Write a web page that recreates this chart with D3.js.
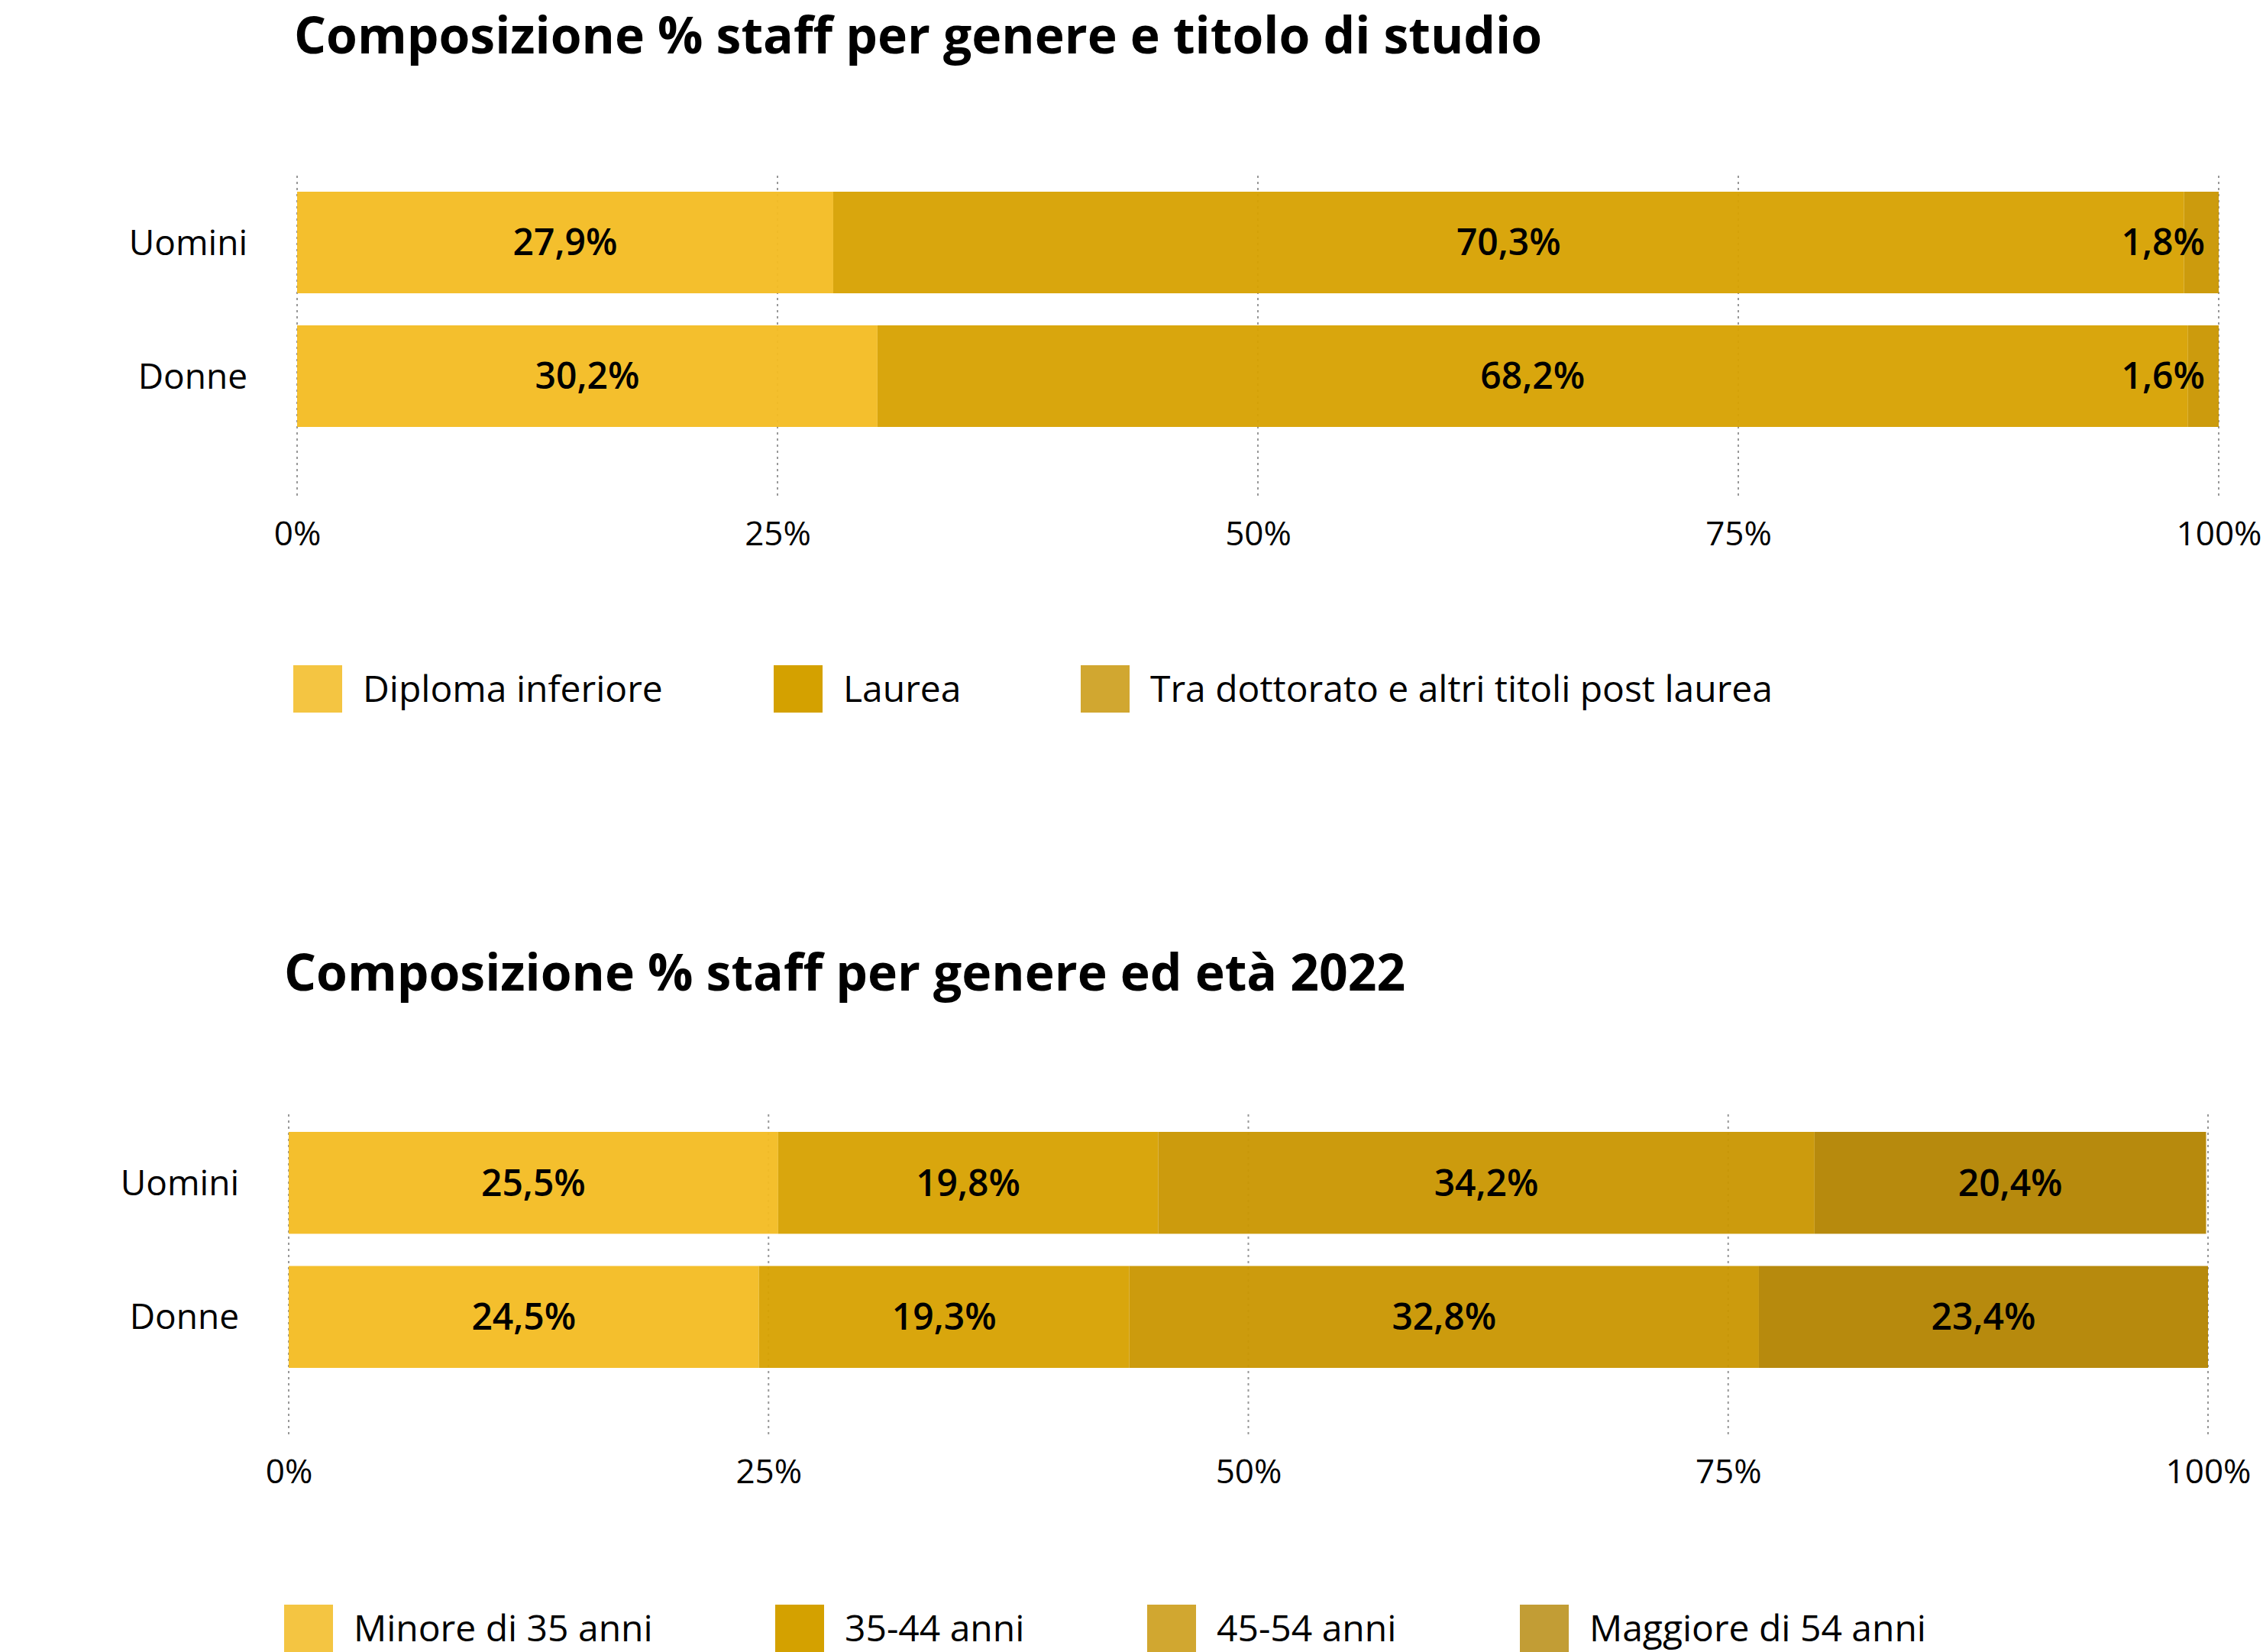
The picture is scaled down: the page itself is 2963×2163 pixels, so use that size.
<!DOCTYPE html>
<html><head><meta charset="utf-8">
<script src="https://cdn.jsdelivr.net/npm/d3@7"></script>
<style>body{margin:0;background:#fff}text{font-family:"Open Sans",sans-serif}</style>
</head><body>
<svg id="c" width="2963" height="2163"></svg>
<script>
const genders = ["Uomini", "Donne"]
const eduKeys = ["Diploma inferiore", "Laurea", "Tra dottorato e altri titoli post laurea"]
const eduUomini = [27.9, 70.3, 1.8]
const eduDonne = [30.2, 68.2, 1.6]
const ageKeys = ["Minore di 35 anni", "35-44 anni", "45-54 anni", "Maggiore di 54 anni"]
const ageUomini = [25.5, 19.8, 34.2, 20.4]
const ageDonne = [24.5, 19.3, 32.8, 23.4]
const ticks = [0, 25, 50, 75, 100]

const barColors = ["#F3BC22", "#D7A100", "#C99600", "#B38400"]
const legColors = ["#F4C542", "#D4A100", "#D1A730", "#C29D35"]

const svg = d3.select("#c")

function panel(o) {
  const g = svg.append("g")
  g.append("text").attr("x", o.titleX).attr("y", o.titleY)
    .attr("font-size", 66).attr("font-weight", 700).text(o.title)

  const x = d3.scaleLinear().domain([0, 100]).range([o.x0, o.x1])
  const y = d3.scaleBand().domain(genders).range([o.y0, o.y1]).paddingInner(0.24)

  // grid
  g.selectAll(".grid").data(ticks).join("line")
    .attr("x1", d => x(d)).attr("x2", d => x(d))
    .attr("y1", o.gTop).attr("y2", o.gBot)
    .attr("stroke", "#999").attr("stroke-width", 2).attr("stroke-dasharray", "3,5")

  const rows = [o.uomini, o.donne]
  rows.forEach((vals, ri) => {
    let acc = 0
    vals.forEach((v, i) => {
      const a = acc; acc += v
      g.append("rect").attr("x", x(a)).attr("width", x(acc) - x(a))
        .attr("y", y(genders[ri])).attr("height", y.bandwidth())
        .attr("fill", barColors[i]).attr("opacity", 0.95)
      // small segments: put label inside the bar end so it stays on the page
      const small = v < 5
      g.append("text").attr("x", small ? x(100) - 18 : x(a + v / 2))
        .attr("y", y(genders[ri]) + y.bandwidth() / 2)
        .attr("text-anchor", small ? "end" : "middle").attr("dy", "0.35em").attr("font-size", 48)
        .attr("font-weight", 600)
        .text(v.toFixed(1).replace(".", ",") + "%")
    })
  })

  // category labels
  g.selectAll(".cat").data(genders).join("text")
    .attr("x", o.x0 - 65).attr("y", d => y(d) + y.bandwidth() / 2).attr("dy", "0.35em")
    .attr("text-anchor", "end").attr("font-size", 46).text(d => d)

  // x axis
  const ax = g.append("g").attr("transform", `translate(0,${o.tickY})`)
    .call(d3.axisBottom(x).tickValues(ticks).tickFormat(d => d + "%").tickSize(0))
  ax.select(".domain").remove()
  ax.selectAll("text").attr("font-size", 44).attr("font-family", "Open Sans").attr("fill", "#000")

  // legend
  o.keys.forEach((k, i) => {
    const lx = o.legX[i]
    g.append("rect").attr("x", lx).attr("y", o.legY).attr("width", 64).attr("height", 62)
      .attr("fill", legColors[i])
    g.append("text").attr("x", lx + 91).attr("y", o.legY + 31).attr("dy", "0.35em")
      .attr("font-size", 48).text(k)
  })
}

panel({
  title: "Composizione % staff per genere e titolo di studio", titleX: 385, titleY: 70,
  x0: 389, x1: 2905, y0: 251, y1: 559, gTop: 230, gBot: 652, tickY: 680,
  uomini: eduUomini, donne: eduDonne, keys: eduKeys,
  legX: [384, 1013, 1415], legY: 871
})
panel({
  title: "Composizione % staff per genere ed età 2022", titleX: 372, titleY: 1297,
  x0: 378, x1: 2891, y0: 1482, y1: 1791, gTop: 1459, gBot: 1880, tickY: 1908,
  uomini: ageUomini, donne: ageDonne, keys: ageKeys,
  legX: [372, 1015, 1502, 1990], legY: 2101
})
</script>
</body></html>
